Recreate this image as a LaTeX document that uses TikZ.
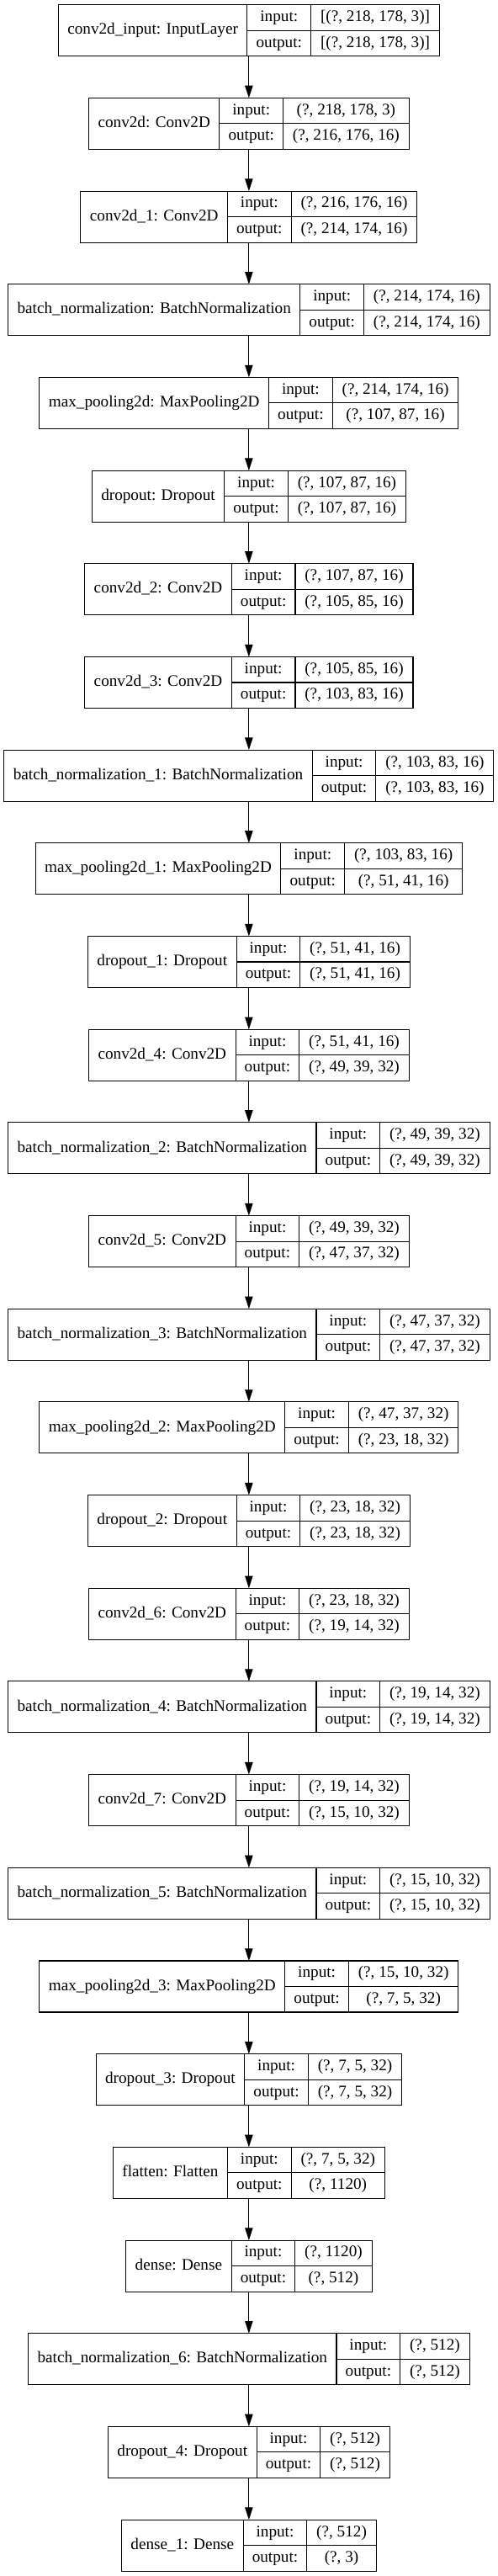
\documentclass[tikz,border=0pt]{standalone}
\usepackage{fontspec}
\setmainfont{Liberation Serif}
\usetikzlibrary{arrows.meta}
\font\recF="Liberation Serif" at 14.4pt
\newdimen\wL \newdimen\wV \newdimen\wT \newdimen\wK \newdimen\wW \newdimen\yT
\tikzset{
  box/.style={minimum height=45.75pt, inner sep=0pt, outer sep=0pt},
  fld/.style={draw, line width=0.8pt, inner sep=0pt, outer sep=0pt, minimum height=22.875pt,
              font=\recF, text height=9.7pt, text depth=2.7pt},
  arr/.style={line width=0.8pt, -{Triangle[length=11pt,width=7pt]}}
}
\newcommand\layer[4]{%
  \setbox0=\hbox{\recF #2}\wL=\wd0 \advance\wL by 16.5pt
  \setbox0=\hbox{\recF #3}\wV=\wd0
  \setbox0=\hbox{\recF #4}\wT=\wd0
  \ifdim\wT>\wV \wV=\wT \fi \advance\wV by 17pt
  \setbox0=\hbox{\recF output:}\wK=\wd0 \advance\wK by 16pt
  \wW=\dimexpr\wL+\wK+\wV\relax
  \yT=\dimexpr -4.275pt - 83.01pt*#1\relax
  \node[box, minimum width=\wW, anchor=north] (L#1) at (221.9pt,\yT) {};
  \node[fld, minimum width=\wL, minimum height=45.75pt, anchor=north west] (L#1n) at (L#1.north west) {#2};
  \node[fld, minimum width=\wK, anchor=north west] (L#1i) at (L#1n.north east) {input:};
  \node[fld, minimum width=\wK, anchor=north west] (L#1o) at (L#1i.south west) {output:};
  \node[fld, minimum width=\wV, anchor=north west] (L#1vi) at (L#1i.north east) {#3};
  \node[fld, minimum width=\wV, anchor=north west] (L#1vo) at (L#1o.north east) {#4};
}
\begin{document}
\begin{tikzpicture}
\useasboundingbox (0pt,0pt) rectangle (444pt,-2295.75pt);
\layer{0}{conv2d\_input: InputLayer}{[(?, 218, 178, 3)]}{[(?, 218, 178, 3)]}
\layer{1}{conv2d: Conv2D}{(?, 218, 178, 3)}{(?, 216, 176, 16)}
\layer{2}{conv2d\_1: Conv2D}{(?, 216, 176, 16)}{(?, 214, 174, 16)}
\layer{3}{batch\_normalization: BatchNormalization}{(?, 214, 174, 16)}{(?, 214, 174, 16)}
\layer{4}{max\_pooling2d: MaxPooling2D}{(?, 214, 174, 16)}{(?, 107, 87, 16)}
\layer{5}{dropout: Dropout}{(?, 107, 87, 16)}{(?, 107, 87, 16)}
\layer{6}{conv2d\_2: Conv2D}{(?, 107, 87, 16)}{(?, 105, 85, 16)}
\layer{7}{conv2d\_3: Conv2D}{(?, 105, 85, 16)}{(?, 103, 83, 16)}
\layer{8}{batch\_normalization\_1: BatchNormalization}{(?, 103, 83, 16)}{(?, 103, 83, 16)}
\layer{9}{max\_pooling2d\_1: MaxPooling2D}{(?, 103, 83, 16)}{(?, 51, 41, 16)}
\layer{10}{dropout\_1: Dropout}{(?, 51, 41, 16)}{(?, 51, 41, 16)}
\layer{11}{conv2d\_4: Conv2D}{(?, 51, 41, 16)}{(?, 49, 39, 32)}
\layer{12}{batch\_normalization\_2: BatchNormalization}{(?, 49, 39, 32)}{(?, 49, 39, 32)}
\layer{13}{conv2d\_5: Conv2D}{(?, 49, 39, 32)}{(?, 47, 37, 32)}
\layer{14}{batch\_normalization\_3: BatchNormalization}{(?, 47, 37, 32)}{(?, 47, 37, 32)}
\layer{15}{max\_pooling2d\_2: MaxPooling2D}{(?, 47, 37, 32)}{(?, 23, 18, 32)}
\layer{16}{dropout\_2: Dropout}{(?, 23, 18, 32)}{(?, 23, 18, 32)}
\layer{17}{conv2d\_6: Conv2D}{(?, 23, 18, 32)}{(?, 19, 14, 32)}
\layer{18}{batch\_normalization\_4: BatchNormalization}{(?, 19, 14, 32)}{(?, 19, 14, 32)}
\layer{19}{conv2d\_7: Conv2D}{(?, 19, 14, 32)}{(?, 15, 10, 32)}
\layer{20}{batch\_normalization\_5: BatchNormalization}{(?, 15, 10, 32)}{(?, 15, 10, 32)}
\layer{21}{max\_pooling2d\_3: MaxPooling2D}{(?, 15, 10, 32)}{(?, 7, 5, 32)}
\layer{22}{dropout\_3: Dropout}{(?, 7, 5, 32)}{(?, 7, 5, 32)}
\layer{23}{flatten: Flatten}{(?, 7, 5, 32)}{(?, 1120)}
\layer{24}{dense: Dense}{(?, 1120)}{(?, 512)}
\layer{25}{batch\_normalization\_6: BatchNormalization}{(?, 512)}{(?, 512)}
\layer{26}{dropout\_4: Dropout}{(?, 512)}{(?, 512)}
\layer{27}{dense\_1: Dense}{(?, 512)}{(?, 3)}
\foreach \i [evaluate=\i as \j using int(\i+1)] in {0,...,26}
  \draw[arr] (L\i.south) -- (L\j.north);
\end{tikzpicture}
\end{document}
